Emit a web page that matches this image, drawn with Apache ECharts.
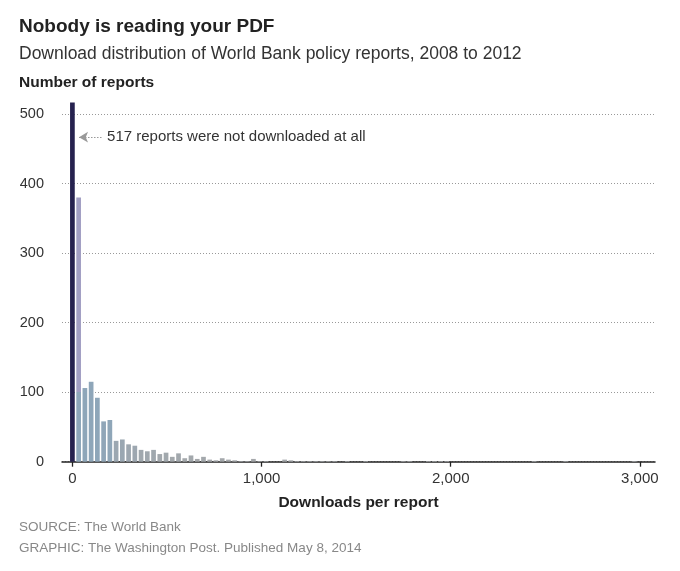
<!DOCTYPE html>
<html>
<head>
<meta charset="utf-8">
<script src="https://cdn.jsdelivr.net/npm/echarts@6/dist/echarts.min.js"></script>
<style>
html,body{margin:0;padding:0;background:#fff;}
#chart{width:680px;height:571px;}
</style>
</head>
<body>
<div id="chart"></div>
<script>
// Bin centre (downloads per report) and number of reports in that bin
const downloadBins = [0,33,66,99,132,165,198,231,264,297,330,363,396,429,462,495,528,561,594,627,660,693,726,759,792,825,858,891,924,957,990,1023,1122,1155,1188,1221,1254,1287,1320,1353,1386,1452,1551,1749,1782,1881,1914,1947,1980,2442,2607,2970];
const reportCounts = [517,380,106,115,92,58,60,30,32,25,23,17,15,17,11,13,7,12,5,9,4,7,3,2,5,3,2,1,1,4,1,1,3,2,1,1,1,1,1,1,1,1,1,1,1,1,1,1,1,1,1,1];
const xTickValues = [0,1000,2000,3000];
const yTickValues = [0,100,200,300,400,500];
const annotationText = '517 reports were not downloaded at all';

const FONT = '"Liberation Sans", Arial, sans-serif';

function mix(a, b, t){
  const pa = [parseInt(a.slice(1,3),16),parseInt(a.slice(3,5),16),parseInt(a.slice(5,7),16)];
  const pb = [parseInt(b.slice(1,3),16),parseInt(b.slice(3,5),16),parseInt(b.slice(5,7),16)];
  return 'rgb(' + pa.map((v,i)=>Math.round(v+(pb[i]-v)*t)).join(',') + ')';
}

const barData = downloadBins.map((x, i) => {
  const v = reportCounts[i];
  let color;
  if (x === 0) {
    color = '#26224f';
  } else if (v > 300) {
    const cut = (v - 100) / v;
    color = new echarts.graphic.LinearGradient(0,0,0,1,[
      {offset:0,color:'#a29fc3'},{offset:cut,color:'#a29fc3'},
      {offset:cut,color:'#8ea7ba'},{offset:1,color:'#8ea7ba'}]);
  } else {
    const t = Math.max(0, Math.min(1, (v - 3) / 60));
    color = mix('#a5a8ab', '#8ea6b9', t);
  }
  return {value:[x, v], itemStyle:{color}};
});

const chart = echarts.init(document.getElementById('chart'), null, {renderer:'canvas'});
chart.setOption({
  animation:false,
  backgroundColor:'#fff',
  textStyle:{fontFamily:FONT},
  title:[
    {text:'Nobody is reading your PDF', left:14, top:12,
     textStyle:{fontFamily:FONT,fontWeight:'bold',fontSize:19,color:'#222'}},
    {text:'Download distribution of World Bank policy reports, 2008 to 2012', left:14, top:40,
     textStyle:{fontFamily:FONT,fontWeight:'normal',fontSize:17.5,color:'#333'}},
    {text:'Number of reports', left:14, top:70,
     textStyle:{fontFamily:FONT,fontWeight:'bold',fontSize:15.5,color:'#222'}},
    {text:'SOURCE: The World Bank', left:14, top:515,
     textStyle:{fontFamily:FONT,fontWeight:'normal',fontSize:13.5,color:'#888'}},
    {text:'GRAPHIC: The Washington Post. Published May 8, 2014', left:14, top:536,
     textStyle:{fontFamily:FONT,fontWeight:'normal',fontSize:13.5,color:'#888'}}
  ],
  grid:{left:62, right:25, top:100.3, bottom:109.3},
  xAxis:{
    type:'value', min:-55, max:3080,
    name:'Downloads per report', nameLocation:'middle', nameGap:33,
    nameTextStyle:{fontFamily:FONT,fontWeight:'bold',fontSize:15.5,color:'#222'},
    axisLine:{show:true,lineStyle:{color:'#222',width:1.5}},
    axisTick:{show:true,customValues:xTickValues,length:5,lineStyle:{color:'#222',width:1.3}},
    axisLabel:{customValues:xTickValues,fontSize:15,color:'#333',margin:10,
      formatter:v=>v.toLocaleString('en-US')},
    splitLine:{show:false}
  },
  yAxis:{
    type:'value', min:0, max:520,
    axisLine:{show:false},
    axisTick:{show:false,customValues:yTickValues},
    axisLabel:{customValues:yTickValues,fontSize:14.5,color:'#333',margin:18},
    splitLine:{show:true,lineStyle:{color:'#999',type:[1,2],width:1}}
  },
  series:[{
    type:'bar',
    data:barData,
    barWidth:4.7,
    z:1,
    markLine:{
      silent:true,
      symbol:['arrow','none'],
      symbolSize:[8,9],
      lineStyle:{color:'#999',type:[1.5,1.5],width:1},
      label:{show:true,position:'end',distance:4,formatter:annotationText,
        fontFamily:FONT,fontSize:15,color:'#333'},
      data:[[{coord:[35,467]},{coord:[162,467]}]]
    }
  }]
});
</script>
</body>
</html>
